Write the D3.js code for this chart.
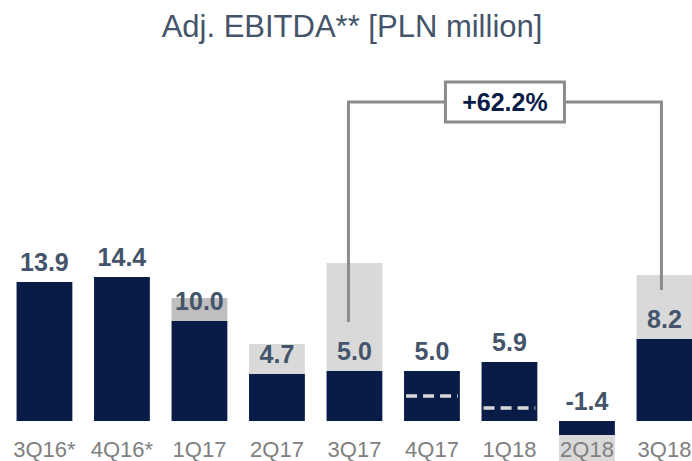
<!DOCTYPE html>
<html lang="en">
<head>
    <meta charset="utf-8" />
    <title>Adj. EBITDA</title>
    <script src="https://d3js.org/d3.v7.min.js"></script>
    <style>
        body { margin: 0; background: #fff; }
        text { font-family: "Liberation Sans", Arial, sans-serif; }
    </style>
</head>
<body>
    <div id="chart"></div>
    <script>
        var categories = ['3Q16*', '4Q16*', '1Q17', '2Q17', '3Q17', '4Q17', '1Q18', '2Q18', '3Q18'];
        var adjEbitda = [13.9, 14.4, 10.0, 4.7, 5.0, 5.0, 5.9, -1.4, 8.2];
        // light grey part above the dark bar (total incl. one-offs)
        var upperTotal = [null, null, 12.3, 7.7, 15.8, null, null, null, 14.6];
        // dashed marker inside some bars
        var dashLevel = [null, null, null, null, null, 2.5, 1.3, null, null];
        var darkerUpper = ['1Q17'];
        var highlighted = ['2Q18'];

        var growthFrom = '3Q17';
        var growthTo = '3Q18';
        var growthLabel = '+62.2%';
        var bracketTop = 31.9;
        var bracketEnds = [9.9, 13.1];

        var width = 692;
        var height = 461;
        var navy = '#081c47';
        var slate = '#44546a';

        var svg = d3.select('#chart')
            .append('svg')
            .attr('width', width)
            .attr('height', height);

        var x = d3.scaleBand()
            .domain(categories)
            .range([5.7, 703.2])
            .paddingInner(0.28)
            .paddingOuter(0.14);

        var y = d3.scaleLinear()
            .domain([-4, 40])
            .range([461, 21]);

        var rows = categories.map(function(c, i) {
            return { cat: c, val: adjEbitda[i], upper: upperTotal[i], dash: dashLevel[i] };
        });

        // title
        svg.append('text')
            .attr('x', 352)
            .attr('y', 37)
            .attr('text-anchor', 'middle')
            .style('font-size', '31px')
            .style('fill', slate)
            .text('Adj. EBITDA** [PLN million]');

        // highlighted category background
        svg.selectAll('.hl')
            .data(highlighted)
            .enter()
            .append('rect')
            .attr('x', function(d) { return x(d); })
            .attr('y', y(-1.4))
            .attr('width', x.bandwidth())
            .attr('height', height - y(-1.4))
            .style('fill', '#d9d9d9');

        // grey upper parts
        svg.selectAll('.upper')
            .data(rows.filter(function(d) { return d.upper != null; }))
            .enter()
            .append('rect')
            .attr('x', function(d) { return x(d.cat); })
            .attr('y', function(d) { return y(d.upper); })
            .attr('width', x.bandwidth())
            .attr('height', function(d) { return y(d.val) - y(d.upper); })
            .style('fill', function(d) {
                return darkerUpper.indexOf(d.cat) >= 0 ? '#bfbfbf' : '#d9d9d9';
            });

        // dark bars
        svg.selectAll('.bar')
            .data(rows)
            .enter()
            .append('rect')
            .attr('x', function(d) { return x(d.cat); })
            .attr('y', function(d) { return y(Math.max(0, d.val)); })
            .attr('width', x.bandwidth())
            .attr('height', function(d) { return Math.abs(y(d.val) - y(0)); })
            .style('fill', navy);

        // dashed markers
        svg.selectAll('.dash')
            .data(rows.filter(function(d) { return d.dash != null; }))
            .enter()
            .append('line')
            .attr('x1', function(d) { return x(d.cat) + 2; })
            .attr('x2', function(d) { return x(d.cat) + x.bandwidth() - 2; })
            .attr('y1', function(d) { return y(d.dash); })
            .attr('y2', function(d) { return y(d.dash); })
            .style('stroke', '#d9d9d9')
            .style('stroke-width', 3.5)
            .style('stroke-dasharray', '11,6');

        // value labels
        svg.selectAll('.val')
            .data(rows)
            .enter()
            .append('text')
            .attr('x', function(d) { return x(d.cat) + x.bandwidth() / 2; })
            .attr('y', function(d) { return y(Math.max(0, d.val)) - 11; })
            .attr('text-anchor', 'middle')
            .style('font-size', '25px')
            .style('font-weight', 'bold')
            .style('fill', slate)
            .text(function(d) { return d.val.toFixed(1); });

        // category axis
        var xAxis = svg.append('g')
            .attr('transform', 'translate(0,' + y(0) + ')')
            .call(d3.axisBottom(x).tickSize(0));
        xAxis.select('.domain').remove();
        xAxis.selectAll('text')
            .attr('y', 36)
            .attr('dy', 0)
            .style('font-family', '"Liberation Sans", Arial, sans-serif')
            .style('font-size', '22px')
            .style('fill', '#808080');

        // growth bracket
        var bx1 = x(growthFrom) + x.bandwidth() / 2 - 6;
        var bx2 = x(growthTo) + x.bandwidth() / 2 - 3;
        svg.append('path')
            .attr('d', d3.line()([
                [bx1, y(bracketEnds[0])], [bx1, y(bracketTop)],
                [bx2, y(bracketTop)], [bx2, y(bracketEnds[1])]
            ]))
            .style('fill', 'none')
            .style('stroke', '#8c8c8c')
            .style('stroke-width', 3);

        var mid = (bx1 + bx2) / 2;
        svg.append('rect')
            .attr('x', mid - 59.5)
            .attr('y', y(bracketTop) - 20)
            .attr('width', 119)
            .attr('height', 40)
            .style('fill', '#fff')
            .style('stroke', '#8c8c8c')
            .style('stroke-width', 3);

        svg.append('text')
            .attr('x', mid)
            .attr('y', y(bracketTop) + 9)
            .attr('text-anchor', 'middle')
            .style('font-size', '25px')
            .style('font-weight', 'bold')
            .style('fill', navy)
            .text(growthLabel);
    </script>
</body>
</html>
